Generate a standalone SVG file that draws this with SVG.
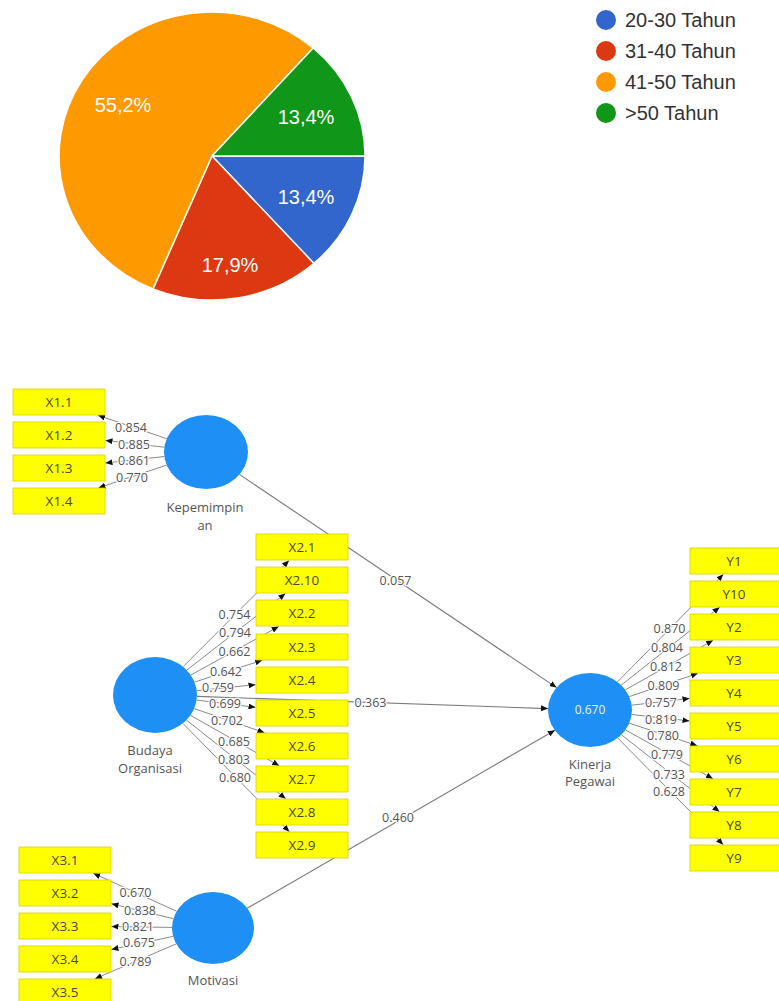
<svg xmlns="http://www.w3.org/2000/svg" width="779" height="1001" viewBox="0 0 779 1001">
<style>
.slice{stroke:#fff;stroke-width:1.5}
.pl{font-family:"Liberation Sans",Arial,sans-serif;font-size:20px;fill:#fff;text-anchor:middle}
.lg{font-family:"Liberation Sans",Arial,sans-serif;font-size:20px;fill:#333}
.box{fill:#ffff00;stroke:#d8d000;stroke-width:0.8}
.bt{font-family:"Open Sans","Noto Sans",sans-serif;font-size:13.5px;fill:#4a4a2a;text-anchor:middle}
.lat{fill:#1e8ff5}
.lt{font-family:"Open Sans","Noto Sans",sans-serif;font-size:13px;fill:#555;text-anchor:middle}
.ld{stroke:#8a8a8a;stroke-width:1;fill:none;marker-end:url(#ah)}
.sp{stroke:#7a7a7a;stroke-width:1.1;fill:none;marker-end:url(#ah)}
.nv{font-family:"Open Sans","Noto Sans",sans-serif;font-size:12.5px;fill:#555;text-anchor:middle;paint-order:stroke;stroke:#fff;stroke-width:2.5px;stroke-linejoin:round}
</style>
<defs>
<marker id="ah" markerUnits="userSpaceOnUse" markerWidth="8" markerHeight="6" refX="7" refY="3" orient="auto">
<path d="M0,0 L7,3 L0,6 z" fill="#111"/>
</marker>
</defs>
<rect width="779" height="1001" fill="#fff"/>

<g id="pie">
<path class="slice" fill="#3366cc" d="M212,156 L365,156 A153,144 0 0 1 313.9,263.4 Z"/>
<path class="slice" fill="#dc3912" d="M212,156 L313.9,263.4 A153,144 0 0 1 153,288.9 Z"/>
<path class="slice" fill="#ff9900" d="M212,156 L153,288.9 A153,144 0 1 1 313.2,48 Z"/>
<path class="slice" fill="#109618" d="M212,156 L313.2,48 A153,144 0 0 1 365,156 Z"/>
<text class="pl" x="123" y="112">55,2%</text>
<text class="pl" x="306" y="124">13,4%</text>
<text class="pl" x="306" y="204">13,4%</text>
<text class="pl" x="230" y="272">17,9%</text>
</g>

<g id="legend">
<circle cx="606" cy="20" r="10" fill="#3366cc"/>
<text class="lg" x="625" y="27">20-30 Tahun</text>
<circle cx="606" cy="51" r="10" fill="#dc3912"/>
<text class="lg" x="625" y="58">31-40 Tahun</text>
<circle cx="606" cy="82" r="10" fill="#ff9900"/>
<text class="lg" x="625" y="89">41-50 Tahun</text>
<circle cx="606" cy="113" r="10" fill="#109618"/>
<text class="lg" x="625" y="120">&gt;50 Tahun</text>
</g>

<g id="connectors">
<line class="ld" x1="166.8" y1="438.7" x2="98" y2="415.3"/>
<line class="ld" x1="164.4" y1="447.2" x2="105.5" y2="440.4"/>
<line class="ld" x1="164.3" y1="456.5" x2="105.5" y2="463"/>
<line class="ld" x1="166.7" y1="465.1" x2="98.5" y2="487.8"/>
<line class="ld" x1="183.1" y1="666.7" x2="289" y2="560.5"/>
<line class="ld" x1="186.8" y1="670.1" x2="285.4" y2="593.5"/>
<line class="ld" x1="190.7" y1="675.1" x2="278.7" y2="626.5"/>
<line class="ld" x1="194.5" y1="682.1" x2="262.2" y2="660.3"/>
<line class="ld" x1="196.7" y1="690.7" x2="255.5" y2="684.7"/>
<line class="ld" x1="196.6" y1="700.1" x2="255.5" y2="707.3"/>
<line class="ld" x1="194.2" y1="708.6" x2="264.5" y2="732.7"/>
<line class="ld" x1="190.5" y1="715.3" x2="279.2" y2="765.7"/>
<line class="ld" x1="186.5" y1="720.1" x2="285.7" y2="798.7"/>
<line class="ld" x1="182.9" y1="723.4" x2="289.3" y2="831.7"/>
<line class="ld" x1="617.4" y1="682" x2="723.3" y2="574.3"/>
<line class="ld" x1="621.2" y1="685.2" x2="719.6" y2="607.3"/>
<line class="ld" x1="625.3" y1="689.9" x2="713.1" y2="640.3"/>
<line class="ld" x1="629.2" y1="696.6" x2="698" y2="673.3"/>
<line class="ld" x1="631.6" y1="705.2" x2="689.5" y2="698.5"/>
<line class="ld" x1="631.6" y1="714.5" x2="689.5" y2="720.9"/>
<line class="ld" x1="629.3" y1="723.2" x2="697.3" y2="745.7"/>
<line class="ld" x1="625.4" y1="729.9" x2="712.9" y2="778.7"/>
<line class="ld" x1="621.3" y1="734.7" x2="719.5" y2="811.7"/>
<line class="ld" x1="617.6" y1="737.9" x2="723.2" y2="844.7"/>
<line class="ld" x1="176.7" y1="911.3" x2="93.3" y2="873.3"/>
<line class="ld" x1="173.4" y1="918.6" x2="111.5" y2="903.8"/>
<line class="ld" x1="172" y1="927.4" x2="111.5" y2="926.6"/>
<line class="ld" x1="173.1" y1="936.4" x2="111.5" y2="949.4"/>
<line class="ld" x1="176.2" y1="943.9" x2="95" y2="978.7"/>
<line class="sp" x1="239.4" y1="474.4" x2="556.6" y2="687.6"/>
<line class="sp" x1="197" y1="696.4" x2="548" y2="708.6"/>
<line class="sp" x1="247.2" y1="908.2" x2="554.9" y2="730.3"/>
</g>

<g id="loading-values">
<text class="nv" x="131" y="432">0.854</text>
<text class="nv" x="134" y="449">0.885</text>
<text class="nv" x="134" y="465">0.861</text>
<text class="nv" x="132" y="482">0.770</text>

<text class="nv" x="234.5" y="619">0.754</text>
<text class="nv" x="235" y="637">0.794</text>
<text class="nv" x="234.5" y="656">0.662</text>
<text class="nv" x="226" y="676">0.642</text>
<text class="nv" x="218" y="692">0.759</text>
<text class="nv" x="225" y="708">0.699</text>
<text class="nv" x="227" y="725">0.702</text>
<text class="nv" x="234" y="746">0.685</text>
<text class="nv" x="234" y="764">0.803</text>
<text class="nv" x="235" y="782">0.680</text>

<text class="nv" x="669.5" y="633">0.870</text>
<text class="nv" x="667" y="652">0.804</text>
<text class="nv" x="666" y="671">0.812</text>
<text class="nv" x="663.5" y="690">0.809</text>
<text class="nv" x="661" y="707">0.757</text>
<text class="nv" x="661" y="724">0.819</text>
<text class="nv" x="663" y="740">0.780</text>
<text class="nv" x="667" y="759">0.779</text>
<text class="nv" x="669" y="779">0.733</text>
<text class="nv" x="669" y="796">0.628</text>

<text class="nv" x="135.5" y="897">0.670</text>
<text class="nv" x="140" y="915">0.838</text>
<text class="nv" x="138" y="931">0.821</text>
<text class="nv" x="139" y="947">0.675</text>
<text class="nv" x="135.5" y="966">0.789</text>

<text class="nv" x="395.5" y="585">0.057</text>
<text class="nv" x="370.5" y="707">0.363</text>
<text class="nv" x="398" y="822">0.460</text>
</g>

<g id="X1.1"><rect class="box" x="13" y="389" width="92" height="26"/><text class="bt" x="59" y="407">X1.1</text></g>
<g id="X1.2"><rect class="box" x="13" y="422" width="92" height="26"/><text class="bt" x="59" y="440">X1.2</text></g>
<g id="X1.3"><rect class="box" x="13" y="455" width="92" height="26"/><text class="bt" x="59" y="473">X1.3</text></g>
<g id="X1.4"><rect class="box" x="13" y="488" width="92" height="26"/><text class="bt" x="59" y="506">X1.4</text></g>

<g id="Kepemimpinan"><ellipse class="lat" cx="206" cy="452" rx="42" ry="37"/><text class="lt" x="205" y="512">Kepemimpin</text><text class="lt" x="205" y="530">an</text></g>

<g id="X2.1"><rect class="box" x="256" y="534" width="92" height="26"/><text class="bt" x="302" y="552">X2.1</text></g>
<g id="X2.10"><rect class="box" x="256" y="567" width="92" height="26"/><text class="bt" x="302" y="585">X2.10</text></g>
<g id="X2.2"><rect class="box" x="256" y="600" width="92" height="26"/><text class="bt" x="302" y="618">X2.2</text></g>
<g id="X2.3"><rect class="box" x="256" y="634" width="92" height="26"/><text class="bt" x="302" y="652">X2.3</text></g>
<g id="X2.4"><rect class="box" x="256" y="667" width="92" height="26"/><text class="bt" x="302" y="685">X2.4</text></g>
<g id="X2.5"><rect class="box" x="256" y="700" width="92" height="26"/><text class="bt" x="302" y="718">X2.5</text></g>
<g id="X2.6"><rect class="box" x="256" y="733" width="92" height="26"/><text class="bt" x="302" y="751">X2.6</text></g>
<g id="X2.7"><rect class="box" x="256" y="766" width="92" height="26"/><text class="bt" x="302" y="784">X2.7</text></g>
<g id="X2.8"><rect class="box" x="256" y="799" width="92" height="26"/><text class="bt" x="302" y="817">X2.8</text></g>
<g id="X2.9"><rect class="box" x="256" y="832" width="92" height="26"/><text class="bt" x="302" y="850">X2.9</text></g>

<g id="Budaya-Organisasi"><ellipse class="lat" cx="155" cy="695" rx="42" ry="38"/><text class="lt" x="150" y="755">Budaya</text><text class="lt" x="150" y="773">Organisasi</text></g>

<g id="Y1"><rect class="box" x="690" y="548" width="92" height="26"/><text class="bt" x="734" y="566">Y1</text></g>
<g id="Y10"><rect class="box" x="690" y="581" width="92" height="26"/><text class="bt" x="734" y="599">Y10</text></g>
<g id="Y2"><rect class="box" x="690" y="614" width="92" height="26"/><text class="bt" x="734" y="632">Y2</text></g>
<g id="Y3"><rect class="box" x="690" y="647" width="92" height="26"/><text class="bt" x="734" y="665">Y3</text></g>
<g id="Y4"><rect class="box" x="690" y="680" width="92" height="26"/><text class="bt" x="734" y="698">Y4</text></g>
<g id="Y5"><rect class="box" x="690" y="713" width="92" height="26"/><text class="bt" x="734" y="731">Y5</text></g>
<g id="Y6"><rect class="box" x="690" y="746" width="92" height="26"/><text class="bt" x="734" y="764">Y6</text></g>
<g id="Y7"><rect class="box" x="690" y="779" width="92" height="26"/><text class="bt" x="734" y="797">Y7</text></g>
<g id="Y8"><rect class="box" x="690" y="812" width="92" height="26"/><text class="bt" x="734" y="830">Y8</text></g>
<g id="Y9"><rect class="box" x="690" y="845" width="92" height="26"/><text class="bt" x="734" y="863">Y9</text></g>

<g id="Kinerja-Pegawai"><ellipse class="lat" cx="590" cy="710" rx="42" ry="37"/><text x="590" y="714" font-family="Open Sans, Noto Sans, sans-serif" font-size="12" fill="#e8f4ff" text-anchor="middle">0.670</text><text class="lt" x="590" y="769">Kinerja</text><text class="lt" x="590" y="786">Pegawai</text></g>

<g id="X3.1"><rect class="box" x="19" y="847" width="92" height="26"/><text class="bt" x="65" y="865">X3.1</text></g>
<g id="X3.2"><rect class="box" x="19" y="880" width="92" height="26"/><text class="bt" x="65" y="898">X3.2</text></g>
<g id="X3.3"><rect class="box" x="19" y="913" width="92" height="26"/><text class="bt" x="65" y="931">X3.3</text></g>
<g id="X3.4"><rect class="box" x="19" y="946" width="92" height="26"/><text class="bt" x="65" y="964">X3.4</text></g>
<g id="X3.5"><rect class="box" x="19" y="979" width="92" height="26"/><text class="bt" x="65" y="997">X3.5</text></g>

<g id="Motivasi"><ellipse class="lat" cx="213" cy="928" rx="41" ry="36"/><text class="lt" x="213" y="985">Motivasi</text></g>
</svg>
